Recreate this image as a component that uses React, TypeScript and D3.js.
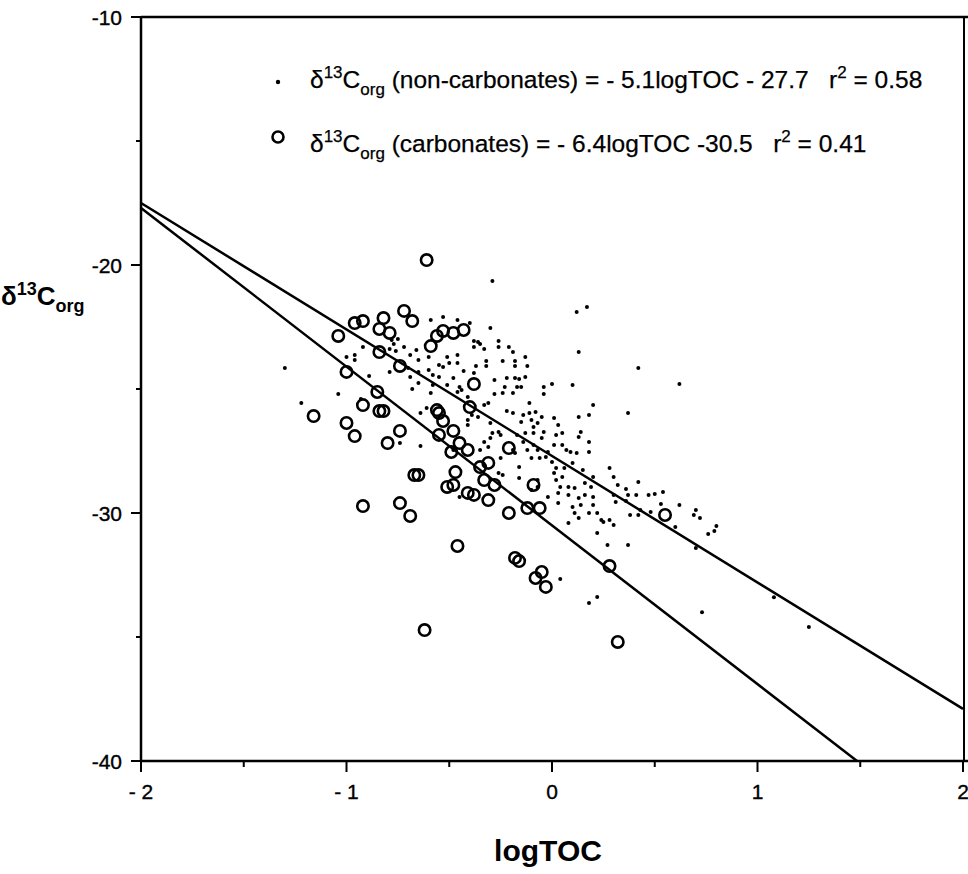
import React from "react";
import * as d3 from "d3";

const W = 968;
const H = 874;

// axis ticks
const xMajorTicks = [-2, -1, 0, 1, 2];
const xMinorTicks = [-1.5, -0.5, 0.5, 1.5];
const xTickLabels = ["- 2", "- 1", "0", "1", "2"];
const yMajorTicks = [-10, -20, -30, -40];
const yMinorTicks = [-15, -25, -35];
const yTickLabels = ["-10", "-20", "-30", "-40"];

// regression lines: slope, intercept
const nonCarbFit = [-5.1, -27.7];
const carbFit = [-6.4, -30.5];

// carbonates (open circles): [logTOC, d13Corg]
const carbonates: [number, number][] = [
  [-0.61, -19.8], [-0.96, -22.34], [-0.92, -22.26], [-1.04, -22.86], [-0.82, -22.14],
  [-0.84, -22.58], [-0.79, -22.74], [-0.72, -21.85], [-0.68, -22.26], [-0.59, -23.27],
  [-0.56, -22.86], [-0.53, -22.66], [-0.48, -22.74], [-0.43, -22.62], [-0.84, -23.51],
  [-0.74, -24.07], [-1.0, -24.31], [-0.38, -24.8], [-0.85, -25.12], [-0.92, -25.65],
  [-1.16, -26.09], [-0.84, -25.89], [-0.82, -25.89], [-0.56, -25.85], [-0.55, -25.97],
  [-0.53, -26.29], [-0.48, -26.69], [-0.4, -25.73], [-1.0, -26.37], [-0.96, -26.9],
  [-0.74, -26.69], [-0.8, -27.18], [-0.55, -26.85], [-0.45, -27.18], [-0.41, -27.46],
  [-0.49, -27.54], [-0.21, -27.38], [-0.35, -28.15], [-0.31, -27.98], [-0.47, -28.35],
  [-0.67, -28.47], [-0.65, -28.47], [-0.33, -28.67], [-0.28, -28.87], [-0.51, -28.95],
  [-0.48, -28.87], [-0.41, -29.19], [-0.38, -29.27], [-0.31, -29.48], [-0.09, -28.87],
  [-0.92, -29.72], [-0.74, -29.6], [-0.69, -30.12], [-0.21, -30.0], [-0.12, -29.8],
  [-0.06, -29.8], [-0.46, -31.33], [-0.18, -31.81], [-0.16, -31.94], [-0.05, -32.38],
  [-0.08, -32.62], [-0.03, -32.98], [-0.62, -34.72], [0.55, -30.08], [0.28, -32.14],
  [0.32, -35.2],
];

// non-carbonates (dots): [logTOC, d13Corg]
const nonCarbonates: [number, number][] = [
  [-1.3, -24.15], [-1.22, -25.56], [-1.04, -25.2], [-1.0, -23.71], [-0.96, -23.83],
  [-0.96, -23.63], [-0.92, -23.31], [-0.93, -25.4], [-0.89, -24.48], [-0.79, -23.39],
  [-0.79, -24.31], [-0.78, -23.02], [-0.77, -23.19], [-0.76, -23.47], [-0.75, -22.98],
  [-0.72, -23.31], [-0.7, -24.15], [-0.69, -23.63], [-0.69, -24.52], [-0.68, -25.0],
  [-0.66, -23.43], [-0.65, -24.31], [-0.65, -24.76], [-0.65, -23.83], [-0.64, -25.97],
  [-0.64, -27.3], [-0.61, -25.77], [-0.6, -24.23], [-0.6, -23.71], [-0.59, -22.22],
  [-0.59, -25.16], [-0.58, -24.44], [-0.58, -24.84], [-0.55, -24.03], [-0.55, -24.52],
  [-0.53, -22.1], [-0.53, -24.11], [-0.51, -23.71], [-0.51, -24.84], [-0.5, -23.95],
  [-0.48, -24.56], [-0.46, -22.22], [-0.46, -23.63], [-0.46, -23.95], [-0.46, -25.12],
  [-0.45, -24.92], [-0.74, -27.18], [-0.48, -27.46], [-0.41, -26.25], [-0.45, -29.35],
  [-0.4, -22.34], [-0.3, -22.54], [-0.29, -20.65], [0.12, -21.9], [0.17, -21.69],
  [0.13, -23.51], [-0.38, -23.06], [-0.36, -23.1], [-0.35, -23.19], [-0.38, -23.31],
  [-0.33, -23.39], [-0.26, -23.06], [-0.26, -23.31], [-0.21, -23.31], [-0.19, -23.51],
  [-0.32, -23.87], [-0.32, -24.07], [-0.24, -23.87], [-0.18, -23.87], [-0.18, -24.07],
  [-0.13, -23.71], [-0.12, -24.07], [-0.43, -24.27], [-0.37, -24.07], [-0.38, -24.35],
  [-0.28, -24.64], [-0.22, -24.56], [-0.18, -24.56], [-0.16, -24.6], [-0.13, -24.52],
  [-0.23, -24.92], [-0.17, -24.92], [-0.15, -24.92], [-0.04, -24.92], [0.0, -24.8],
  [0.1, -24.84], [-0.28, -25.2], [-0.24, -25.16], [-0.19, -25.16], [-0.04, -25.2],
  [-0.44, -25.04], [-0.41, -25.32], [0.62, -24.8], [0.37, -25.97], [0.42, -24.15],
  [-0.33, -25.65], [-0.31, -25.56], [-0.11, -25.56], [0.2, -25.65], [-0.39, -26.05],
  [-0.41, -26.45], [-0.3, -26.37], [-0.36, -26.13], [-0.22, -25.89], [-0.19, -25.97],
  [-0.14, -26.05], [-0.11, -25.97], [-0.08, -25.93], [-0.05, -26.13], [0.01, -26.17],
  [0.13, -26.13], [0.18, -26.05], [-0.25, -26.85], [-0.15, -26.33], [-0.1, -26.25],
  [-0.07, -26.37], [-0.09, -26.53], [0.03, -26.45], [-0.29, -26.77], [-0.26, -26.73],
  [-0.3, -26.98], [-0.33, -27.14], [-0.17, -26.85], [-0.13, -26.77], [-0.09, -26.77],
  [-0.05, -26.98], [-0.04, -26.73], [0.02, -26.85], [0.05, -26.77], [0.13, -26.94],
  [0.14, -26.73], [-0.14, -27.14], [-0.09, -27.26], [-0.07, -27.46], [-0.12, -27.46],
  [-0.19, -27.46], [-0.18, -27.58], [0.01, -27.26], [0.05, -27.26], [0.07, -27.46],
  [0.09, -27.54], [0.12, -27.58], [0.18, -27.14], [0.18, -27.54], [-0.35, -27.46],
  [-0.31, -27.34], [-0.25, -27.78], [-0.1, -27.78], [-0.06, -27.78], [-0.03, -27.74],
  [0.0, -27.94], [-0.02, -27.54], [0.02, -28.19], [0.01, -28.39], [0.06, -28.19],
  [0.1, -27.98], [-0.16, -28.15], [-0.26, -28.39], [-0.16, -28.59], [-0.07, -28.67],
  [0.02, -28.67], [0.05, -28.55], [0.15, -28.27], [0.2, -28.55], [0.28, -28.19],
  [0.3, -28.55], [0.04, -28.95], [0.08, -28.95], [0.11, -28.99], [0.16, -28.79],
  [0.19, -28.95], [-0.02, -29.35], [0.03, -29.19], [0.08, -29.27], [0.13, -29.4],
  [0.16, -29.27], [0.2, -29.35], [0.14, -29.68], [0.1, -29.76], [0.2, -29.68],
  [0.11, -30.0], [0.18, -30.0], [0.22, -30.0], [0.24, -30.28], [0.22, -30.81],
  [0.08, -30.4], [0.13, -30.2], [0.3, -29.27], [0.31, -29.56], [0.28, -30.28],
  [0.3, -30.48], [-0.07, -28.95], [-0.1, -29.07], [-0.24, -28.47], [0.32, -28.87],
  [0.36, -29.03], [0.42, -28.75], [0.37, -29.27], [0.41, -29.27], [0.47, -29.27],
  [0.5, -29.23], [0.54, -29.15], [0.36, -29.52], [0.53, -29.64], [0.62, -29.68],
  [0.38, -30.08], [0.42, -30.08], [0.43, -29.88], [0.48, -29.96], [0.7, -29.88],
  [0.69, -30.08], [0.72, -30.2], [0.25, -30.36], [0.6, -30.56], [0.76, -30.85],
  [0.8, -30.52], [0.79, -30.73], [0.27, -31.29], [0.37, -31.29], [0.7, -31.41],
  [0.04, -32.66], [0.18, -33.63], [0.22, -33.39], [0.03, -29.6],
  [0.73, -34.0], [1.08, -33.4], [1.25, -34.6],
];

const FONT = "'Liberation Sans', Arial, Helvetica, sans-serif";

export default function App() {
  const x = d3.scaleLinear().domain([-2, 2]).range([141, 963]);
  const y = d3.scaleLinear().domain([-10, -40]).range([17, 761]);

  const fitLine = (fit: number[]) => {
    const [m, b] = fit;
    const xEnd = Math.min(2, (-40 - b) / m);
    const line = d3.line<number>().x((v) => x(v)).y((v) => y(m * v + b));
    return line([-2, xEnd]) || "";
  };

  const tickStyle = { stroke: "#000", strokeWidth: 0.35 };
  const legendStyle = { stroke: "#000", strokeWidth: 0.25 };

  return (
    <svg
      width={W}
      height={H}
      style={{ position: "absolute", left: 0, top: 0, background: "#fff" }}
      fontFamily={FONT}
    >
      <rect x={0} y={0} width={W} height={H} fill="#fff" />
      {/* frame */}
      <line x1={x(-2)} x2={W} y1={y(-10)} y2={y(-10)} stroke="#000" strokeWidth={2.5} />
      <line x1={x(2) + 1} x2={x(2) + 1} y1={y(-10)} y2={y(-40)} stroke="#000" strokeWidth={2} />
      <line x1={x(-2)} x2={x(-2)} y1={y(-10) - 1} y2={y(-40) + 1} stroke="#000" strokeWidth={2.5} />
      <line x1={x(-2)} x2={W} y1={y(-40)} y2={y(-40)} stroke="#000" strokeWidth={2.5} />

      {/* y ticks */}
      {yMajorTicks.map((t, i) => (
        <g key={"ym" + t}>
          <line x1={x(-2) - 10} x2={x(-2)} y1={y(t)} y2={y(t)} stroke="#000" strokeWidth={2} />
          <text x={122} y={y(t) + 7.5} textAnchor="end" fontSize={21} {...tickStyle}>
            {yTickLabels[i]}
          </text>
        </g>
      ))}
      {yMinorTicks.map((t) => (
        <line key={"yn" + t} x1={x(-2) - 5} x2={x(-2)} y1={y(t)} y2={y(t)} stroke="#000" strokeWidth={2} />
      ))}

      {/* x ticks */}
      {xMajorTicks.map((t, i) => (
        <g key={"xm" + t}>
          <line x1={x(t)} x2={x(t)} y1={y(-40)} y2={y(-40) + 11} stroke="#000" strokeWidth={2} />
          <text x={x(t)} y={y(-40) + 38} textAnchor="middle" fontSize={21} style={{ whiteSpace: "pre" }} {...tickStyle}>
            {xTickLabels[i]}
          </text>
        </g>
      ))}
      {xMinorTicks.map((t) => (
        <line key={"xn" + t} x1={x(t)} x2={x(t)} y1={y(-40)} y2={y(-40) + 6} stroke="#000" strokeWidth={2} />
      ))}

      {/* axis titles */}
      <text x={548} y={861} textAnchor="middle" fontSize={30} fontWeight="bold">
        logTOC
      </text>
      <text x={1} y={305} fontSize={26} fontWeight="bold">
        δ<tspan dy={-10} fontSize={18}>13</tspan>
        <tspan dy={10}>C</tspan>
        <tspan dy={7} fontSize={18}>org</tspan>
      </text>

      {/* regression lines */}
      <path d={fitLine(nonCarbFit)} fill="none" stroke="#000" strokeWidth={2.5} />
      <path d={fitLine(carbFit)} fill="none" stroke="#000" strokeWidth={2.5} />

      {/* data */}
      {nonCarbonates.map((d, i) => (
        <circle key={"n" + i} cx={x(d[0])} cy={y(d[1])} r={2} fill="#000" />
      ))}
      {carbonates.map((d, i) => (
        <circle key={"c" + i} cx={x(d[0])} cy={y(d[1])} r={5.7} fill="none" stroke="#000" strokeWidth={2.6} />
      ))}

      {/* legend */}
      <circle cx={278} cy={82} r={2.2} fill="#000" />
      <text x={310} y={88} fontSize={24.5} style={{ whiteSpace: "pre" }} {...legendStyle}>
        δ<tspan dy={-10} fontSize={17}>13</tspan>
        <tspan dy={10}>C</tspan>
        <tspan dy={7} fontSize={17}>org</tspan>
        <tspan dy={-7}>{" (non-carbonates) = - 5.1logTOC - 27.7   r"}</tspan>
        <tspan dy={-10} fontSize={17}>2</tspan>
        <tspan dy={10}>{" = 0.58"}</tspan>
      </text>
      <circle cx={278} cy={137} r={5.5} fill="none" stroke="#000" strokeWidth={2.6} />
      <text x={310} y={152} fontSize={24.5} style={{ whiteSpace: "pre" }} {...legendStyle}>
        δ<tspan dy={-10} fontSize={17}>13</tspan>
        <tspan dy={10}>C</tspan>
        <tspan dy={7} fontSize={17}>org</tspan>
        <tspan dy={-7}>{" (carbonates) = - 6.4logTOC -30.5   r"}</tspan>
        <tspan dy={-10} fontSize={17}>2</tspan>
        <tspan dy={10}>{" = 0.41"}</tspan>
      </text>
    </svg>
  );
}
